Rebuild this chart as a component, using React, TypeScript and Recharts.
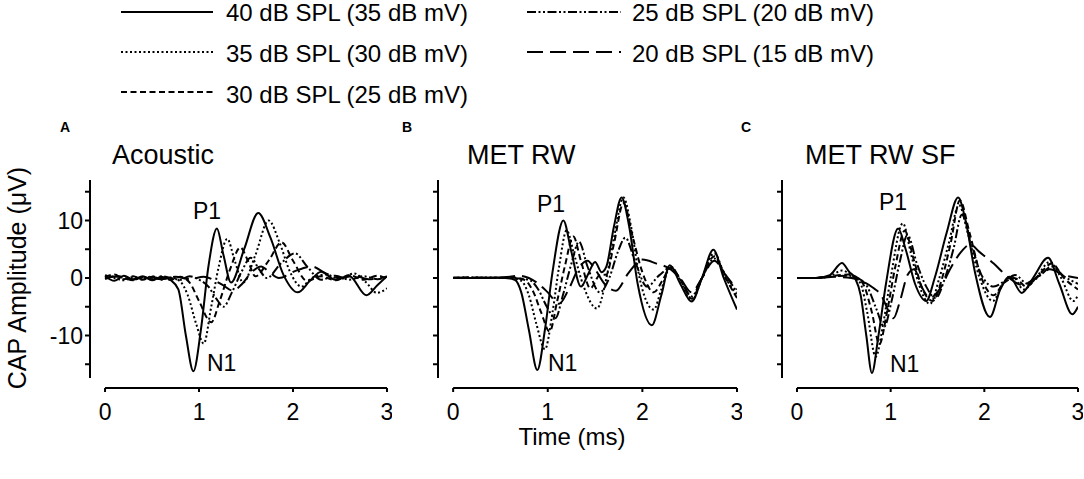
import React from 'react';
import { LineChart, Line, XAxis, YAxis, ReferenceLine } from 'recharts';

type Pt = [number, number]; // [time ms, amplitude µV]

// A: Acoustic
const acoustic40: Pt[] = [[0,0.3],[0.1,-0.5],[0.2,0.4],[0.3,-0.3],[0.4,0.3],[0.5,-0.4],[0.6,0.2],[0.7,-0.4],[0.78,-2],[0.86,-10],[0.94,-16.2],[1.02,-9],[1.1,2],[1.19,8.6],[1.26,4],[1.34,-0.8],[1.48,5],[1.63,11.3],[1.76,7],[1.9,0.5],[2.05,-2.5],[2.18,-0.5],[2.3,1.1],[2.45,-0.3],[2.6,0.3],[2.78,-3],[2.9,-1.2],[3,0.3]];
const acoustic35: Pt[] = [[0,0.5],[0.1,0],[0.2,-0.4],[0.3,0.2],[0.4,-0.2],[0.5,0.3],[0.6,-0.3],[0.7,0.1],[0.8,-0.6],[0.88,-3],[0.97,-8],[1.05,-11.4],[1.13,-5],[1.21,2],[1.3,6.8],[1.38,3],[1.47,-0.8],[1.6,4],[1.74,10],[1.86,6],[1.97,1],[2.09,-1.5],[2.2,0],[2.35,0.6],[2.5,-0.2],[2.65,0.8],[2.78,-0.8],[2.89,-2.6],[3,-1.8]];
const acoustic30: Pt[] = [[0,0.2],[0.1,0.6],[0.2,-0.2],[0.3,0.3],[0.4,-0.3],[0.5,0.2],[0.6,0],[0.7,-0.3],[0.8,0.2],[0.9,-0.8],[1,-4],[1.13,-7.7],[1.22,-4],[1.33,1.5],[1.44,5.3],[1.52,3],[1.6,0.3],[1.74,3],[1.88,6.2],[2,3],[2.15,-0.5],[2.3,0.3],[2.45,-0.4],[2.6,0.5],[2.75,-0.3],[2.9,0.4],[3,-0.2]];
const acoustic25: Pt[] = [[0,-0.2],[0.1,0.3],[0.2,0],[0.3,-0.4],[0.4,0.2],[0.5,-0.2],[0.6,0.3],[0.7,0],[0.8,-0.3],[0.9,0.3],[1,-0.3],[1.1,-1.5],[1.18,-3.5],[1.26,-5],[1.35,-2.5],[1.45,1],[1.55,3.5],[1.64,1.5],[1.72,0],[1.87,2.5],[2.02,4.3],[2.15,2],[2.3,-0.3],[2.45,0.4],[2.6,-0.3],[2.75,0.3],[2.9,-0.2],[3,0.3]];
const acoustic20: Pt[] = [[0,0],[0.15,0.3],[0.3,-0.2],[0.45,0.2],[0.6,-0.2],[0.75,0.2],[0.9,-0.2],[1.05,0.2],[1.15,-0.3],[1.25,-1.2],[1.36,-2.2],[1.46,-1],[1.56,1],[1.66,2],[1.75,1],[1.85,0],[2.02,1.2],[2.2,2],[2.35,0.8],[2.5,0],[2.65,0.4],[2.8,-0.2],[3,0.2]];

// B: MET RW
const metRw40: Pt[] = [[0,0],[0.2,0],[0.4,0.1],[0.55,0],[0.65,-0.3],[0.72,-2.5],[0.8,-9],[0.89,-16],[0.97,-9],[1.05,1],[1.165,10],[1.25,4.5],[1.35,-1.5],[1.43,0.8],[1.5,2.8],[1.57,1],[1.62,2],[1.7,9],[1.78,14],[1.86,9],[1.95,-1],[2.1,-8.2],[2.2,-3],[2.29,2.2],[2.4,-1],[2.52,-4.1],[2.63,0],[2.75,4.9],[2.86,0],[3,-5.5]];
const metRw35: Pt[] = [[0,0],[0.2,0.1],[0.4,0],[0.6,0],[0.72,-0.5],[0.8,-3],[0.88,-8],[0.97,-12.4],[1.05,-6],[1.12,2],[1.2,8.3],[1.28,4],[1.38,-1.5],[1.52,-5.3],[1.62,0],[1.7,7],[1.8,14],[1.88,9],[1.97,0],[2.12,-5.5],[2.2,-2],[2.3,2],[2.41,-0.8],[2.52,-4],[2.63,0],[2.76,4.3],[2.88,0],[3,-3]];
const metRw30: Pt[] = [[0,0],[0.2,0.1],[0.4,0],[0.6,0.1],[0.75,-0.3],[0.85,-2.5],[0.93,-6],[1.02,-9.3],[1.1,-4],[1.18,2],[1.27,7.2],[1.35,3],[1.45,-1.8],[1.55,0.5],[1.62,0.6],[1.7,6],[1.8,13],[1.9,7],[2,1],[2.12,-2.5],[2.21,-0.5],[2.3,1.8],[2.41,-0.5],[2.52,-3.6],[2.63,0],[2.76,3.8],[2.88,0],[3,-3.5]];
const metRw25: Pt[] = [[0,0.1],[0.2,0],[0.4,0.1],[0.6,0],[0.8,-0.3],[0.9,-2],[0.99,-5],[1.08,-7],[1.16,-3],[1.25,2.5],[1.33,6.3],[1.42,2],[1.55,-2.5],[1.65,0],[1.74,4.5],[1.82,7],[1.92,3],[2.05,-1.5],[2.18,0.5],[2.3,1.8],[2.41,-0.5],[2.52,-3.2],[2.63,0],[2.76,3.4],[2.88,0.5],[3,-2.5]];
const metRw20: Pt[] = [[0,0],[0.2,0.1],[0.4,0],[0.6,0.2],[0.7,0.4],[0.8,0],[0.9,-1],[1,-2.5],[1.12,-4.5],[1.22,-2],[1.32,1.5],[1.42,3],[1.5,1.5],[1.6,-1],[1.72,-2.2],[1.85,0.8],[2,3.2],[2.15,2.5],[2.3,1.5],[2.41,-0.3],[2.52,-2.5],[2.63,0],[2.76,3],[2.88,0.5],[3,-2]];

// C: MET RW SF
const metRwSf40: Pt[] = [[0,0],[0.2,0],[0.35,0.5],[0.48,2.6],[0.56,1],[0.62,0],[0.68,-3],[0.74,-10],[0.8,-16.5],[0.87,-10],[0.95,-1],[1.08,8.6],[1.16,5],[1.26,-1],[1.38,-4],[1.47,0],[1.6,8],[1.72,14],[1.8,10],[1.9,1],[2.06,-6.8],[2.17,-2],[2.27,0.2],[2.4,-2.6],[2.52,0],[2.68,3.5],[2.8,-1],[2.94,-6.3],[3,-5]];
const metRwSf35: Pt[] = [[0,0],[0.2,0],[0.35,0.3],[0.48,1.3],[0.6,0.2],[0.68,-1],[0.75,-6],[0.84,-13.7],[0.92,-8],[1,0],[1.13,9.5],[1.22,4],[1.3,-1],[1.42,-4.5],[1.52,0],[1.62,6],[1.73,12.7],[1.82,8],[1.95,0],[2.09,-4],[2.2,-1],[2.3,0.3],[2.42,-2],[2.55,0],[2.7,2.8],[2.82,0],[2.95,-4],[3,-3]];
const metRwSf30: Pt[] = [[0,0],[0.2,0],[0.4,0.4],[0.55,0.6],[0.65,0],[0.72,-1.5],[0.8,-6],[0.88,-11.5],[0.96,-6],[1.05,2],[1.15,8.2],[1.25,3],[1.33,-1.5],[1.45,-4],[1.55,0],[1.64,6],[1.74,13.5],[1.84,8],[1.97,0],[2.1,-3],[2.2,-1],[2.32,0],[2.45,-1.5],[2.58,0.5],[2.72,2.5],[2.85,0],[3,-2]];
const metRwSf25: Pt[] = [[0,0],[0.2,0],[0.4,0.3],[0.55,0.4],[0.65,0],[0.75,-1.5],[0.85,-5.5],[0.93,-8.5],[1.01,-4],[1.1,3],[1.18,7.5],[1.28,2.5],[1.38,-1.5],[1.48,-3.5],[1.58,0],[1.67,5],[1.76,11],[1.86,6],[1.97,0.5],[2.1,-1.5],[2.22,-0.5],[2.33,0.5],[2.46,-1],[2.6,0.5],[2.72,2],[2.85,0.3],[3,-1]];
const metRwSf20: Pt[] = [[0,0],[0.2,0],[0.4,0.2],[0.58,0],[0.7,-0.6],[0.82,-1.8],[0.9,-3],[0.97,-5.5],[1.03,-7],[1.1,-4],[1.18,0.5],[1.25,1.5],[1.33,-1.5],[1.42,-3.5],[1.52,-2],[1.65,2],[1.75,4.5],[1.85,5.8],[1.95,4.5],[2.1,2.5],[2.25,0.2],[2.4,-1.2],[2.55,0],[2.7,1.5],[2.85,0.5],[3,0]];

const levelLabels = [
  '40 dB SPL (35 dB mV)',
  '35 dB SPL (30 dB mV)',
  '30 dB SPL (25 dB mV)',
  '25 dB SPL (20 dB mV)',
  '20 dB SPL (15 dB mV)',
];
const dashes = ['', '2 2.5', '6 3.5', '9 2.5 2 2.5 2 2.5', '16 7'];

const xTicks = [0, 1, 2, 3];
const yTicks = [-15, -10, -5, 0, 5, 10, 15];
const Y_MIN = -19.13;
const Y_MAX = 17.04;
const Y_AXIS_BOTTOM = -17.4;
const X_MIN = -0.16;

const FONT = "'Liberation Sans', Arial, Helvetica, sans-serif";

const panels = [
  { letter: 'A', title: 'Acoustic', series: [acoustic40, acoustic35, acoustic30, acoustic25, acoustic20], left: 50, plotW: 297, labels: true, titleX: 112, p1: [193, 219], n1: [207, 371] },
  { letter: 'B', title: 'MET RW', series: [metRw40, metRw35, metRw30, metRw25, metRw20], left: 398, plotW: 299, labels: false, titleX: 467, p1: [537, 212], n1: [548, 371] },
  { letter: 'C', title: 'MET RW SF', series: [metRwSf40, metRwSf35, metRwSf30, metRwSf25, metRwSf20], left: 742, plotW: 296, labels: false, titleX: 805, p1: [879, 210], n1: [890, 372] },
];

const letterX = [60, 402, 741];

function Panel({ p }: { p: (typeof panels)[number] }) {
  return (
    <div style={{ position: 'absolute', left: p.left, top: 170 }}>
      <LineChart width={40 + p.plotW + 5} height={258} margin={{ top: 10, right: 5, bottom: 5, left: 0 }}>
        <XAxis
          type="number"
          dataKey="t"
          domain={[X_MIN, 3]}
          ticks={xTicks}
          allowDataOverflow
          interval={0}
          axisLine={false}
          tickLine={{ stroke: '#000', strokeWidth: 2 }}
          tickSize={4}
          tickMargin={12}
          height={35}
          tick={{ fill: '#000', fontSize: 23, fontFamily: FONT }}
        />
        <YAxis
          type="number"
          domain={[Y_MIN, Y_MAX]}
          ticks={yTicks}
          allowDataOverflow
          interval={0}
          width={40}
          axisLine={false}
          tickLine={{ stroke: '#000', strokeWidth: 2 }}
          tickSize={5}
          tickFormatter={(v: number) => (p.labels && v % 10 === 0 ? String(v) : '')}
          tick={{ fill: '#000', fontSize: 23, fontFamily: FONT }}
        />
        <ReferenceLine
          segment={[{ x: X_MIN, y: Y_AXIS_BOTTOM }, { x: X_MIN, y: Y_MAX }]}
          stroke="#000"
          strokeWidth={2}
          ifOverflow="visible"
        />
        <ReferenceLine
          segment={[{ x: 0, y: Y_MIN }, { x: 3, y: Y_MIN }]}
          stroke="#000"
          strokeWidth={2}
          ifOverflow="visible"
        />
        {p.series.map((s, i) => (
          <Line
            key={i}
            data={s.map(([t, v]) => ({ t, v }))}
            dataKey="v"
            type="monotone"
            stroke="#000"
            strokeWidth={2}
            strokeDasharray={dashes[i] || undefined}
            dot={false}
            isAnimationActive={false}
          />
        ))}
      </LineChart>
    </div>
  );
}

export default function App() {
  const legendRows = [21, 62, 103];
  const legendLineY = [12, 52, 92];
  return (
    <div style={{ position: 'absolute', left: 0, top: 0, width: 1084, height: 479, background: '#fff', overflow: 'hidden', fontFamily: FONT }}>
      {panels.map((p) => (
        <Panel key={p.letter} p={p} />
      ))}
      <svg width={1084} height={479} style={{ position: 'absolute', left: 0, top: 0, pointerEvents: 'none' }} fontFamily={FONT}>
        {levelLabels.map((label, i) => {
          const col = i < 3 ? 0 : 1;
          const row = i < 3 ? i : i - 3;
          const x1 = col === 0 ? 121 : 527;
          const x2 = col === 0 ? 213 : 621;
          const tx = col === 0 ? 226 : 632;
          return (
            <g key={label}>
              <line x1={x1} x2={x2} y1={legendLineY[row]} y2={legendLineY[row]} stroke="#000" strokeWidth={2} strokeDasharray={dashes[i] || undefined} />
              <text x={tx} y={legendRows[row]} fontSize={24} fill="#000">{label}</text>
            </g>
          );
        })}
        {panels.map((p, i) => (
          <g key={p.letter}>
            <text x={letterX[i]} y={132} fontSize={14} fontWeight="bold" fill="#000">{p.letter}</text>
            <text x={p.titleX} y={164} fontSize={27} fill="#000">{p.title}</text>
            <text x={p.p1[0]} y={p.p1[1]} fontSize={23} fill="#000">P1</text>
            <text x={p.n1[0]} y={p.n1[1]} fontSize={23} fill="#000">N1</text>
          </g>
        ))}
        <text x={26} y={278} fontSize={25} fill="#000" textAnchor="middle" transform="rotate(-90 26 278)">CAP Amplitude (μV)</text>
        <text x={572} y={445} fontSize={24} fill="#000" textAnchor="middle">Time (ms)</text>
      </svg>
    </div>
  );
}
